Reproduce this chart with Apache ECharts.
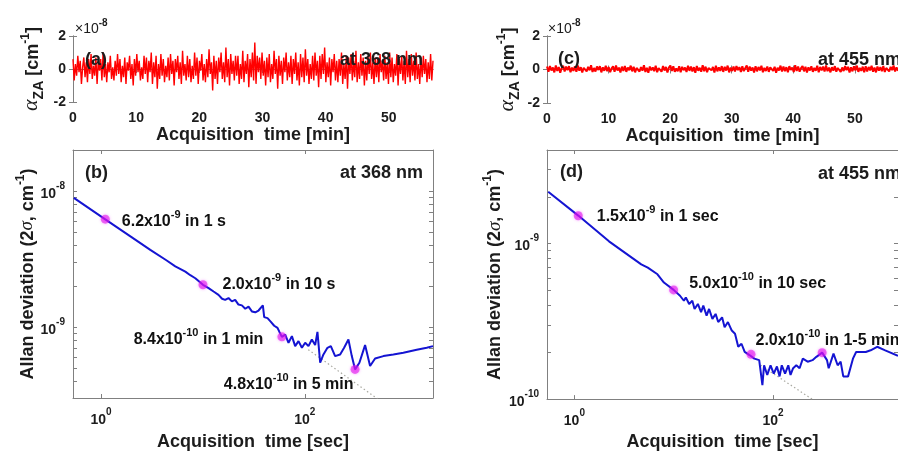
<!DOCTYPE html>
<html>
<head>
<meta charset="utf-8">
<script src="https://cdn.jsdelivr.net/npm/echarts@6/dist/echarts.min.js"></script>
<style>html,body{margin:0;padding:0;background:#fff;}#chart{width:898px;height:456px;}</style>
</head>
<body>
<div id="chart"></div>
<script>
// ---------------- DATA ----------------
// (a)/(c): zero-absorption signal, units of 1e-8 cm^-1, evenly sampled over the acquisition
const acquisitionMin = 57;
const timeTicksMin = [0, 10, 20, 30, 40, 50];
const alphaTicks = [-2, 0, 2];
const alphaZA368 = [
0.6,-0.7,0.3,-0.4,0.8,-0.2,0.5,-0.9,0.1,0.7,-0.5,0.4,-0.8,0.6,-0.3,0.9,-0.6,0.2,-0.4,0.7,
-0.9,0.5,-0.1,0.6,-0.7,1.0,-0.5,0.3,-0.8,0.4,-0.2,0.8,-0.6,0.1,-0.7,0.5,-0.4,0.9,-0.3,0.6,
-0.8,0.2,-0.5,0.7,-0.9,0.4,-0.1,0.8,-0.6,0.3,-1.0,0.6,-0.4,0.9,-0.2,0.5,-0.7,0.1,-0.6,0.8,
-0.3,0.7,-0.8,0.5,-0.2,1.0,-0.9,0.4,-0.5,0.8,-1.2,0.3,-0.6,0.9,-0.4,0.6,-0.8,0.2,-0.5,0.7,
-0.7,0.9,-0.3,0.5,-1.0,0.6,-0.2,0.8,-0.6,0.4,-0.9,1.1,-0.4,0.3,-0.7,0.8,-0.5,0.6,-0.8,0.2,
-0.6,1.0,-0.4,0.7,-0.9,0.5,-0.1,0.9,-0.7,0.3,-0.8,0.6,-0.5,1.2,-0.3,0.4,-1.3,0.8,-0.6,0.5,
-0.9,0.7,-0.2,1.0,-0.6,0.4,-0.8,1.3,-0.5,0.6,-1.0,0.9,-0.3,0.5,-0.7,0.8,-0.4,0.8,-0.9,0.3,
-0.6,1.1,-0.8,0.5,-0.3,0.9,-1.1,0.6,-0.5,1.0,-0.7,1.6,-0.9,0.8,-0.2,0.7,-0.6,1.0,-0.4,0.5,
-1.0,0.7,-0.5,0.9,-0.8,0.3,-0.6,1.1,-0.3,0.6,-1.2,0.8,-0.4,0.5,-0.9,0.7,-0.2,1.0,-0.7,0.4,
-0.5,0.8,-0.9,0.6,-0.3,1.0,-0.7,0.4,-1.0,0.9,-0.5,0.7,-0.8,1.2,-0.4,0.6,-0.9,0.3,-0.6,0.8,
-0.7,1.0,-0.4,0.5,-1.1,0.8,-0.6,0.9,-0.3,1.3,-0.8,0.4,-0.5,0.7,-1.0,0.6,-0.2,0.9,-0.7,0.5,
-0.8,0.6,-0.4,1.0,-0.9,0.3,-0.6,0.8,-1.2,0.7,-0.3,0.9,-0.7,0.5,-0.5,1.1,-0.8,0.4,-0.6,0.9,
-0.4,0.7,-1.0,0.5,-0.7,0.8,-0.3,1.0,-0.6,0.4,-0.9,0.7,-0.5,0.6,-0.8,0.9,-0.2,0.5,-0.7,0.8,
-0.6,0.4,-0.9,1.0,-0.5,0.7,-0.8,0.3,-0.4,0.9,-1.0,0.6,-0.3,0.8,-0.7,0.5,-0.9,1.1,-0.5,0.6,
-0.8,0.9,-0.4,0.5,-0.7,1.0,-0.6,0.3,-0.9,0.7,-0.5,0.8,-0.3,0.6,-0.8,0.4,-0.6,0.9,-0.7,0.5
];
const alphaZA455 = [
.18,-.14,.21,-.06,.12,-.17,.24,-.09,.15,-.19,.08,.22,-.12,.17,-.04,.20,-.16,.11,-.08,.19,
-.13,.23,-.07,.14,-.18,.10,.21,-.11,.16,-.05,.25,-.15,.09,-.12,.18,-.03,.20,-.17,.13,-.08,
.22,-.10,.15,-.16,.07,.19,-.13,.24,-.06,.11,-.18,.17,-.09,.21,-.14,.12,-.04,.23,-.11,.16,
-.17,.09,.20,-.12,.14,-.07,.26,-.15,.10,-.19,.18,-.05,.13,-.10,.22,-.16,.08,.17,-.13,.21,
-.06,.15,-.18,.11,.24,-.09,.19,-.14,.07,-.11,.20,-.17,.16,-.04,.12,-.15,.23,-.08,.18,-.12,
.14,-.19,.21,-.07,.10,-.13,.25,-.10,.17,-.16,.09,.19,-.05,.15,-.18,.22,-.11,.13,-.08,.20,
-.14,.16,-.06,.23,-.17,.11,-.09,.18,-.12,.21,-.04,.14,-.15,.19,-.10,.08,.24,-.13,.17,-.07,
.12,-.18,.20,-.11,.15,-.05,.22,-.16,.10,-.09,.18,-.14,.13,.21,-.08,.16,-.19,.11,-.06,.23,
-.12,.17,-.10,.14,-.17,.20,-.03,.12,-.15,.25,-.09,.18,-.13,.08,.21,-.11,.16,-.18,.13,-.06,
.19,-.14,.10,-.08,.22,-.16,.15,-.05,.17,-.12,.24,-.10,.11,-.17,.14,-.07,.20,-.13,.09,.18,
-.15,.12,-.09,.21,-.04,.16,-.18,.13,-.11,.19,-.06,.23,-.14,.10,-.08,.17,-.16,.20,-.12,.15,
-.05,.22,-.13,.11,-.17,.18,-.07,.14,-.10,.21,-.15,.09,.19,-.11,.16,-.04,.24,-.12,.13,-.08
];

// (b)/(d): Allan deviation (2 sigma, cm^-1) vs averaging time (s)
const tauRange = [0.53, 1810];
const tauTicks = [1, 100];
const tau368 = [0.54,1.1,1.94,3.04,4.37,5.35,6.71,7.51,8.41,10.0,11.35,12.7,14.2,15.4,16.5,17.8,19.2,20.7,22.3,24.1,26.0,28.0,30.2,32.6,35.1,38.7,39.9,43.0,46.4,50.0,53.9,56.4,59.5,64.1,69.1,74.6,80.3,86.6,93.5,100.7,108.5,117.1,126.2,132.9,137.2,141.3,152.2,166.6,179.8,198.2,221.9,242.8,267.6,288.9,311.3,343,390,436.7,489,590,739,926,1253,1570,1810];
const adev368 = [8.89e-9,6.17e-9,4.63e-9,3.69e-9,3.09e-9,2.79e-9,2.55e-9,2.40e-9,2.28e-9,2.04e-9,1.93e-9,1.82e-9,1.72e-9,1.61e-9,1.58e-9,1.63e-9,1.54e-9,1.58e-9,1.46e-9,1.44e-9,1.36e-9,1.41e-9,1.30e-9,1.28e-9,1.32e-9,1.44e-9,1.18e-9,1.16e-9,1.09e-9,1.02e-9,9.83e-10,9.15e-10,8.45e-10,8.78e-10,7.64e-10,8.55e-10,7.22e-10,7.86e-10,7.02e-10,7.64e-10,7.22e-10,8.07e-10,7.35e-10,9.19e-10,7.02e-10,5.45e-10,6.27e-10,7.02e-10,7.22e-10,6.10e-10,6.27e-10,7.02e-10,8.07e-10,6.10e-10,4.87e-10,5.45e-10,7.35e-10,5.16e-10,5.86e-10,6.10e-10,6.27e-10,6.45e-10,6.79e-10,7.02e-10,7.22e-10];
const adevRange368 = [3e-10, 2e-8];
const adevLabelTicks368 = [1e-9, 1e-8];
const adevMinorTicks368 = [4e-10,5e-10,6e-10,7e-10,8e-10,9e-10,1e-9,2e-9,3e-9,4e-9,5e-9,6e-9,7e-9,8e-9,9e-9,1e-8,2e-8];
const fit368 = [[108, 6.8e-10], [520, 2.95e-10]];
const marks368 = [[1.1, 6.2e-9], [10, 2.04e-9], [59.5, 8.45e-10], [311, 4.87e-10]];
const markText368 = [['6.2x10', '-9', ' in 1 s'], ['2.0x10', '-9', ' in 10 s'], ['8.4x10', '-10', ' in 1 min'], ['4.8x10', '-10', ' in 5 min']];

const tau455 = [0.545,1.094,2.23,4.71,5.48,6.86,7.97,9.98,11.57,12.66,13.24,14.29,15.39,16.21,17.50,18.84,19.85,21.42,22.70,24.51,26.4,28.04,30.68,32.53,35.12,38.4,41.4,44.6,48.1,51.8,57.9,64.8,72.5,78.1,81.2,87.4,94.3,101.6,109.4,116.3,122.4,132.1,142.3,149.9,159.2,171.4,185.0,199.3,223,249.5,273,312,349,363,406,447,479,509,569,637,686,858,960,1116,1345,1810];
const adev455 = [2.153e-9,1.514e-9,1.034e-9,7.35e-10,7.00e-10,6.35e-10,5.62e-10,5.04e-10,4.62e-10,4.29e-10,4.51e-10,4.09e-10,4.29e-10,3.80e-10,4.09e-10,3.62e-10,3.99e-10,3.44e-10,3.80e-10,3.28e-10,3.53e-10,3.13e-10,3.36e-10,2.90e-10,3.13e-10,2.76e-10,2.63e-10,2.17e-10,2.27e-10,2.01e-10,1.92e-10,1.82e-10,1.78e-10,1.23e-10,1.65e-10,1.43e-10,1.65e-10,1.46e-10,1.62e-10,1.40e-10,1.65e-10,1.46e-10,1.65e-10,1.43e-10,1.58e-10,1.65e-10,1.58e-10,1.82e-10,1.74e-10,1.78e-10,1.87e-10,1.99e-10,1.78e-10,1.58e-10,1.96e-10,1.65e-10,1.74e-10,1.40e-10,1.40e-10,1.82e-10,2.01e-10,2.01e-10,2.06e-10,2.17e-10,2.06e-10,1.9e-10];
const adevRange455 = [1e-10, 4e-9];
const adevLabelTicks455 = [1e-10, 1e-9];
const adevMinorTicks455 = [1e-10,2e-10,3e-10,4e-10,5e-10,6e-10,7e-10,8e-10,9e-10,1e-9,2e-9,3e-9,4e-9];
const fit455 = [[75, 1.65e-10], [265, 0.97e-10]];
const marks455 = [[1.094, 1.51e-9], [9.98, 5.04e-10], [60, 1.94e-10], [312, 1.99e-10]];
const markText455 = [['1.5x10', '-9', ' in 1 sec'], ['5.0x10', '-10', ' in 10 sec'], ['2.0x10', '-10', ' in 1-5 min'], null];

// ---------------- STYLE ----------------
const FONT = '"Liberation Sans", Arial, Helvetica, sans-serif';
const SERIF = '"Liberation Serif", "Times New Roman", serif';
const INK = '#1c1c1c';
const FRAME = '#808080';

const tickRich = {
  m: { fontFamily: FONT, fontSize: 14, fontWeight: 'bold', color: INK, lineHeight: 20, verticalAlign: 'bottom' },
  p: { fontFamily: FONT, fontSize: 10, fontWeight: 'bold', color: INK, lineHeight: 10, verticalAlign: 'top' }
};
const powLabel = v => '{m|10}{p|' + Math.round(Math.log10(v)) + '}';
const annRich = {
  m: { fontFamily: FONT, fontSize: 16, fontWeight: 'bold', color: '#111111', opacity: 1, lineHeight: 20, verticalAlign: 'bottom' },
  p: { fontFamily: FONT, fontSize: 11, fontWeight: 'bold', color: '#111111', opacity: 1, lineHeight: 11, verticalAlign: 'top' }
};
const nameRich = {
  m: { fontFamily: FONT, fontSize: 18, fontWeight: 'bold', color: INK, lineHeight: 22, verticalAlign: 'bottom' },
  p: { fontFamily: FONT, fontSize: 12, fontWeight: 'bold', color: INK, lineHeight: 12, verticalAlign: 'top' },
  i: { fontFamily: SERIF, fontSize: 19, fontStyle: 'italic', fontWeight: 'normal', color: INK, lineHeight: 22, verticalAlign: 'bottom' },
  g: { fontFamily: SERIF, fontSize: 22, fontStyle: 'italic', fontWeight: 'normal', color: INK, lineHeight: 22, verticalAlign: 'bottom' },
  z: { fontFamily: FONT, fontSize: 14, fontWeight: 'bold', color: INK, lineHeight: 14, verticalAlign: 'bottom', padding: [0, 0, -4, 0] }
};
const allanName = '{m|Allan deviation (2}{i|σ}{m|, cm}{p|-1}{m|)}';
const alphaName = '{g|α}{z|ZA}{m| [cm}{p|-1}{m|]}';

const gridsPx = [
  { left: 73, top: 36, width: 360, height: 66 },   // (a)
  { left: 547, top: 36, width: 364, height: 67 },  // (c)
  { left: 73, top: 150, width: 360, height: 250 }, // (b)
  { left: 547, top: 150, width: 361, height: 251 } // (d)
];

const frameLine = { show: true, lineStyle: { color: FRAME, width: 1 } };
const baseTick = (vals) => ({ show: true, inside: true, length: 4, lineStyle: { color: FRAME }, customValues: vals });

function timeX(grid, gap) {
  return [
    { type: 'value', gridIndex: grid, min: 0, max: acquisitionMin, position: 'bottom',
      axisLine: frameLine, axisTick: baseTick(timeTicksMin), splitLine: { show: false },
      axisLabel: { customValues: timeTicksMin, margin: 9, color: INK, fontFamily: FONT, fontSize: 14, fontWeight: 'bold' },
      name: 'Acquisition  time [min]', nameLocation: 'middle', nameGap: gap,
      nameTextStyle: { fontFamily: FONT, fontSize: 18, fontWeight: 'bold', color: INK } },
    { type: 'value', gridIndex: grid, min: 0, max: acquisitionMin, position: 'top',
      axisLine: frameLine, axisTick: baseTick(timeTicksMin), axisLabel: { show: false }, splitLine: { show: false } }
  ];
}
function tauX(grid, gap) {
  return [
    { type: 'log', logBase: 10, gridIndex: grid, min: tauRange[0], max: tauRange[1], position: 'bottom',
      axisLine: frameLine, axisTick: baseTick(tauTicks), splitLine: { show: false }, minorTick: { show: false },
      axisLabel: { customValues: tauTicks, margin: 9, formatter: powLabel, rich: tickRich },
      name: 'Acquisition  time [sec]', nameLocation: 'middle', nameGap: gap,
      nameTextStyle: { fontFamily: FONT, fontSize: 18, fontWeight: 'bold', color: INK } },
    { type: 'log', logBase: 10, gridIndex: grid, min: tauRange[0], max: tauRange[1], position: 'top',
      axisLine: frameLine, axisTick: baseTick(tauTicks), axisLabel: { show: false }, splitLine: { show: false } }
  ];
}
function alphaY(grid, gap) {
  return [
    { type: 'value', gridIndex: grid, min: -2, max: 2, position: 'left',
      axisLine: frameLine, axisTick: baseTick(alphaTicks), splitLine: { show: false },
      axisLabel: { customValues: alphaTicks, margin: 7, color: INK, fontFamily: FONT, fontSize: 14, fontWeight: 'bold' },
      name: alphaName, nameLocation: 'middle', nameGap: gap, nameRotate: 90, nameTextStyle: { rich: nameRich } },
    { type: 'value', gridIndex: grid, min: -2, max: 2, position: 'right',
      axisLine: frameLine, axisTick: baseTick(alphaTicks), axisLabel: { show: false }, splitLine: { show: false } }
  ];
}
function adevY(grid, range, labelTicks, minorTicks, gap) {
  return [
    { type: 'log', logBase: 10, gridIndex: grid, min: range[0], max: range[1], position: 'left',
      axisLine: frameLine, axisTick: baseTick(minorTicks), splitLine: { show: false },
      axisLabel: { customValues: labelTicks, margin: 8, formatter: powLabel, rich: tickRich },
      name: allanName, nameLocation: 'middle', nameGap: gap, nameRotate: 90, nameTextStyle: { rich: nameRich } },
    { type: 'log', logBase: 10, gridIndex: grid, min: range[0], max: range[1], position: 'right',
      axisLine: frameLine, axisTick: baseTick(minorTicks), axisLabel: { show: false }, splitLine: { show: false } }
  ];
}

const timeSeries = (vals) => vals.map((v, i) => [i * acquisitionMin / (vals.length - 1), v]);
const pairs = (xs, ys) => xs.map((x, i) => [x, ys[i]]);

const labelPlace368 = [
  { position: 'right', distance: 12, offset: [0, 0] },
  { position: 'right', distance: 15, offset: [0, -2] },
  { position: 'left', distance: 14, offset: [0, 1] },
  { position: 'left', distance: 0, offset: [3, 13] }
];
const labelPlace455 = [
  { position: 'right', distance: 14, offset: [0, -1] },
  { position: 'right', distance: 11, offset: [0, -8] },
  { position: 'right', distance: 0, offset: [0, -16] },
  null
];
function markData(marks, texts, places) {
  return marks.map((m, i) => {
    const t = texts[i];
    if (!t) return { value: m, label: { show: false } };
    const pl = places[i];
    return { value: m, label: { show: true, position: pl.position, distance: pl.distance, offset: pl.offset,
      color: '#111111', opacity: 1, textBorderWidth: 0,
      formatter: '{m|' + t[0] + '}{p|' + t[1] + '}{m|' + t[2] + '}' } };
  });
}

function allanSeries(axisIdx, tau, adev, fit, marks, texts, places) {
  return [
    { type: 'line', xAxisIndex: axisIdx, yAxisIndex: axisIdx, data: fit, symbol: 'none', silent: true,
      lineStyle: { color: '#a8a8a0', width: 1.2, type: [1.5, 2.5] }, z: 2 },
    { type: 'line', xAxisIndex: axisIdx, yAxisIndex: axisIdx, data: pairs(tau, adev), symbol: 'none',
      lineStyle: { color: '#1414d2', width: 2 }, z: 3 },
    { type: 'scatter', xAxisIndex: axisIdx, yAxisIndex: axisIdx, data: markData(marks, texts, places),
      symbolSize: 9, itemStyle: { color: 'rgba(225,20,235,0.72)', shadowBlur: 3, shadowColor: 'rgba(230,0,255,0.6)' },
      label: { color: '#111111', opacity: 1, rich: annRich }, emphasis: { disabled: true }, z: 4 }
  ];
}

function textEl(text, x, y, align, rich, size) {
  return { type: 'text', x: x, y: y, z: 100,
    style: { text: text, align: align, textAlign: align, verticalAlign: 'middle', textVerticalAlign: 'middle',
      fill: INK, font: 'bold ' + size + 'px ' + FONT, rich: rich } };
}
const panelRich = {
  m: { fill: INK, fontFamily: FONT, fontSize: 14, fontWeight: 'normal', lineHeight: 18, verticalAlign: 'bottom' },
  p: { fill: INK, fontFamily: FONT, fontSize: 10, fontWeight: 'bold', lineHeight: 10, verticalAlign: 'top' }
};

const option = {
  animation: false,
  backgroundColor: '#ffffff',
  grid: gridsPx.map(g => Object.assign({ show: false, containLabel: false }, g)),
  xAxis: [].concat(timeX(0, 22), timeX(1, 23), tauX(2, 35), tauX(3, 32)),
  yAxis: [].concat(alphaY(0, 31), alphaY(1, 29), adevY(2, adevRange368, adevLabelTicks368, adevMinorTicks368, 36),
                   adevY(3, adevRange455, adevLabelTicks455, adevMinorTicks455, 43)),
  series: [
    { type: 'line', xAxisIndex: 0, yAxisIndex: 0, data: timeSeries(alphaZA368), symbol: 'none',
      lineStyle: { color: '#ff0000', width: 1.4 } },
    { type: 'line', xAxisIndex: 2, yAxisIndex: 2, data: timeSeries(alphaZA455), symbol: 'none',
      lineStyle: { color: '#ff0000', width: 2 } }
  ].concat(
    allanSeries(4, tau368, adev368, fit368, marks368, markText368, labelPlace368),
    allanSeries(6, tau455, adev455, fit455, marks455, markText455, labelPlace455)
  ),
  graphic: [
    textEl('(a)', 85, 60, 'left', null, 18),
    textEl('at 368 nm', 423, 60, 'right', null, 18),
    textEl('(c)', 558, 59, 'left', null, 18),
    textEl('at 455 nm', 901, 60, 'right', null, 18),
    textEl('(b)', 85, 173, 'left', null, 18),
    textEl('at 368 nm', 423, 173, 'right', null, 18),
    textEl('(d)', 560, 172, 'left', null, 18),
    textEl('at 455 nm', 901, 174, 'right', null, 18),
    textEl('{m|×10}{p|-8}', 75, 27, 'left', panelRich, 14),
    textEl('{m|×10}{p|-8}', 548, 27, 'left', panelRich, 14)
  ]
};

const chart = echarts.init(document.getElementById('chart'), null, { renderer: 'canvas' });
chart.setOption(option);
</script>
</body>
</html>
